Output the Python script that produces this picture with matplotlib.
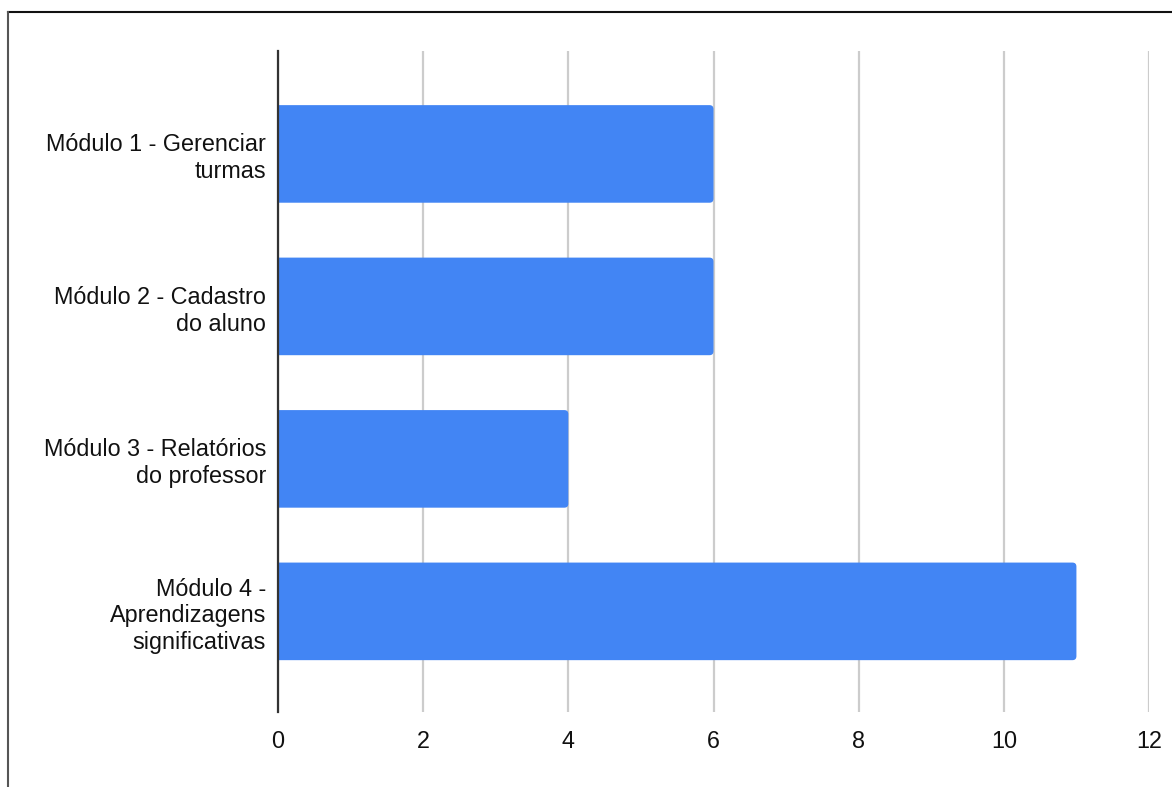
import matplotlib
matplotlib.use("Agg")
import matplotlib.pyplot as plt
from matplotlib.lines import Line2D
from matplotlib.patches import FancyBboxPatch

categories = [
    "Módulo 1 - Gerenciar\nturmas",
    "Módulo 2 - Cadastro\ndo aluno",
    "Módulo 3 - Relatórios\ndo professor",
    "Módulo 4 -\nAprendizagens\nsignificativas",
]
values = [6, 6, 4, 11]
x_ticks = [0, 2, 4, 6, 8, 10, 12]

plt.rcParams["font.family"] = ["Liberation Sans", "DejaVu Sans"]

W, H = 1172, 787
fig = plt.figure(figsize=(W / 100, H / 100), dpi=100)
ax = fig.add_axes([278 / W, (H - 712) / H, (1149 - 278) / W, (712 - 51) / H])

x_min, x_max = 0, 12
y_top, y_bot = -0.675, 3.66
ax.set_xlim(x_min, x_max)
ax.set_ylim(y_bot, y_top)

pos = list(range(len(categories)))
bars = ax.barh(pos, values, height=0.64, color="#4285F4", zorder=3)

# swap plain rectangles for ones with slightly rounded corners
px_per_x = ax.get_position().width * W / (x_max - x_min)
px_per_y = ax.get_position().height * H / (y_bot - y_top)
radius = 4.0 / px_per_x
aspect = px_per_x / px_per_y
for b in bars:
    x0, y0 = b.get_x(), b.get_y()
    w, h = b.get_width(), b.get_height()
    b.set_visible(False)
    rounded = FancyBboxPatch(
        (x0 - 0.2, y0), w + 0.2, h,
        boxstyle=f"round,pad=0,rounding_size={radius}",
        mutation_aspect=aspect,
        facecolor="#4285F4", edgecolor="none", zorder=3,
    )
    ax.add_patch(rounded)

ax.set_yticks(pos)
ax.set_yticklabels(categories, fontsize=16.8, color="#111111", linespacing=1.2)
ax.set_xticks(x_ticks)
ax.set_xticklabels([str(t) for t in x_ticks], fontsize=16.8, color="#111111")
ax.tick_params(axis="both", length=0)
ax.tick_params(axis="y", pad=8.5)
ax.tick_params(axis="x", pad=13)

ax.grid(axis="x", color="#cccccc", linewidth=1.6, zorder=0)
ax.grid(axis="y", visible=False)
for s in ["top", "right", "bottom"]:
    ax.spines[s].set_visible(False)
ax.spines["left"].set_color("#333333")
ax.spines["left"].set_linewidth(1.6)
ax.spines["left"].set_zorder(4)

# frame lines along top and left edges
fig.add_artist(Line2D([8 / W, 1.0], [1 - 12 / H, 1 - 12 / H], color="#111111", linewidth=1.5, transform=fig.transFigure))
fig.add_artist(Line2D([8 / W, 8 / W], [0, 1 - 12 / H], color="#555555", linewidth=1.5, transform=fig.transFigure))

fig.savefig("out.png", dpi=100, facecolor="white")
